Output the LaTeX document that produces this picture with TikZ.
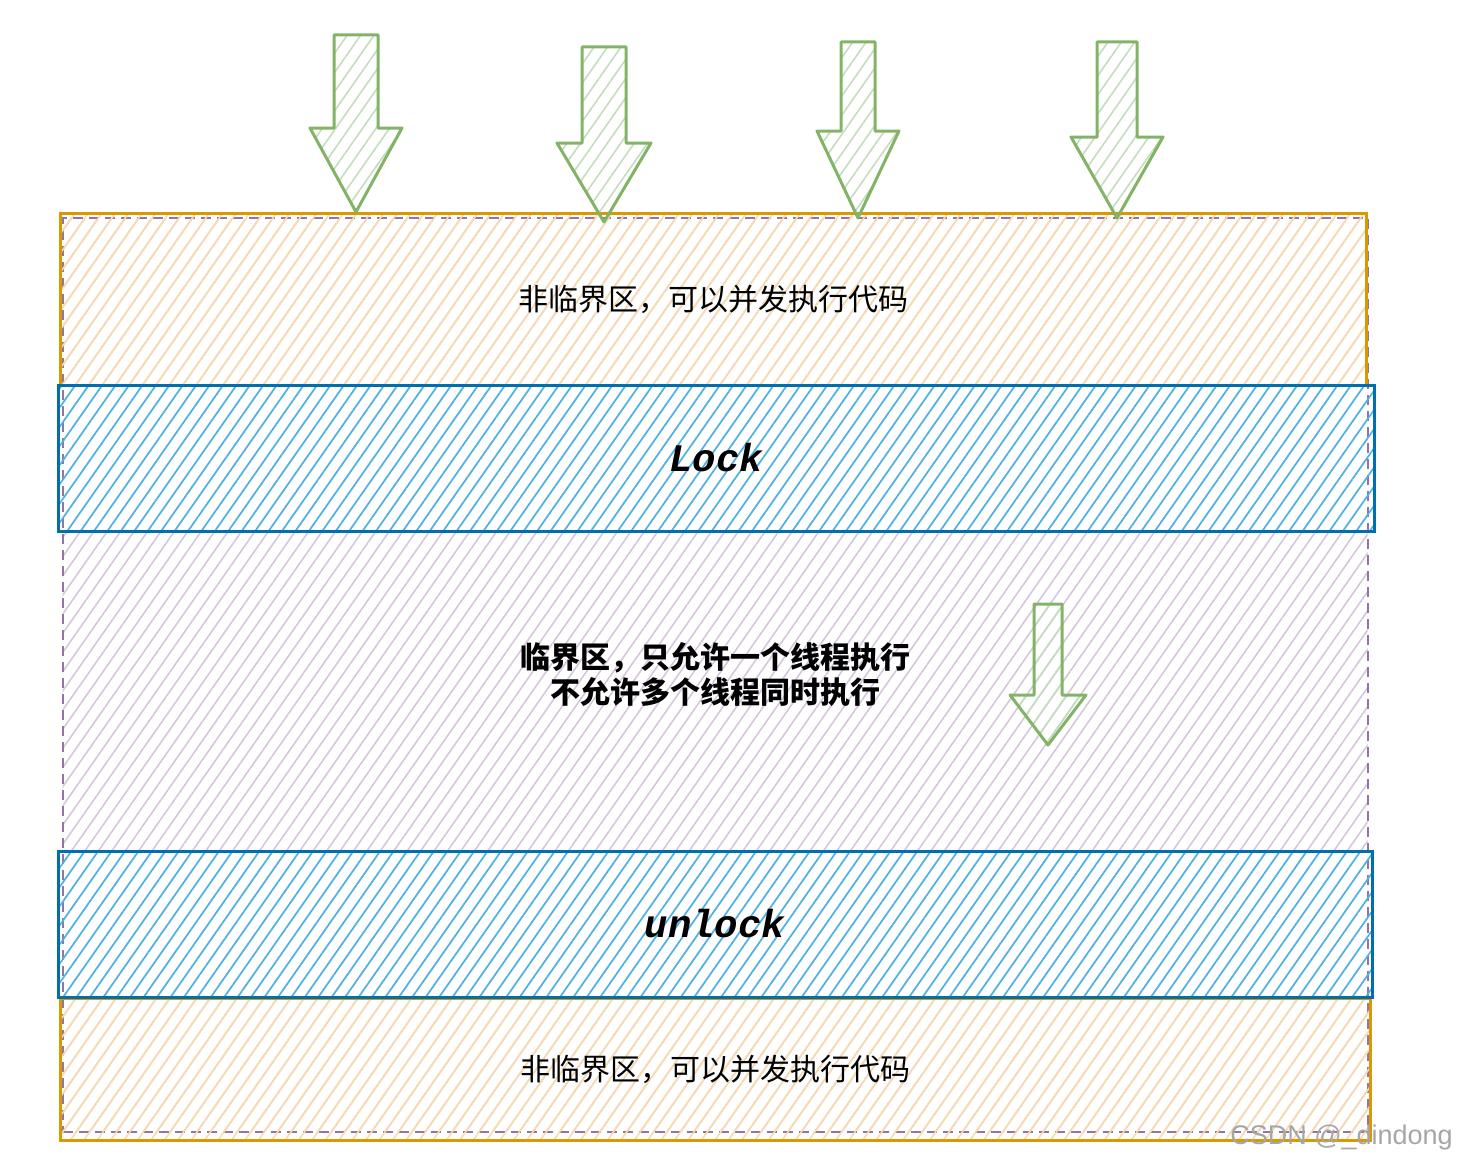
\documentclass[tikz,border=0pt]{standalone}
\usepackage{fontspec}
\usepackage{tikz}
\usetikzlibrary{patterns.meta}
\newfontfamily\cjk{Noto Sans CJK SC}
\newfontfamily\codefont{Liberation Mono}
\newfontfamily\markfont{Liberation Sans}
\definecolor{orline}{HTML}{D79B00}
\definecolor{orfill}{HTML}{FFE6CC}
\definecolor{puline}{HTML}{9673A6}
\definecolor{pufill}{HTML}{E1D5E7}
\definecolor{blline}{HTML}{006EAF}
\definecolor{blfill}{HTML}{1BA1E2}
\definecolor{grline}{HTML}{82B366}
\definecolor{grfill}{HTML}{D5E8D4}
\tikzset{
  hatch/.style={
    pattern={Lines[angle=55, distance=11pt, line width=1.6pt]},
    pattern color=#1
  },
  zonebox/.style={
    rectangle, draw=orline, line width=3pt, hatch=orfill!85!orline,
    minimum width=1306pt, font=\cjk\fontsize{30}{35}\selectfont,
    inner sep=0pt
  },
  critbox/.style={
    rectangle, hatch=pufill!85!puline,
    postaction={draw=puline, line width=2pt, dash pattern=on 10pt off 6pt},
    minimum width=1305pt, minimum height=914pt, align=center,
    font=\cjk\bfseries\fontsize{30}{35}\selectfont, inner sep=0pt
  },
  lockbar/.style={
    rectangle, draw=blline, line width=3pt, hatch=blfill!80,
    minimum width=1316pt, minimum height=146pt,
    font=\codefont\bfseries\itshape\fontsize{39}{39}\selectfont,
    inner sep=0pt
  },
  fatarrow/.style={
    draw=grline, line width=3pt, line join=round, hatch=grfill!80!grline
  },
}
% #1 x, #2 top, #3 neck, #4 tip, #5 shaft half width, #6 head half width
\newcommand\fatarrow[6]{%
  \path[fatarrow] (#1-#5,#2) -- (#1+#5,#2) -- (#1+#5,#3) -- (#1+#6,#3)
    -- (#1,#4) -- (#1-#6,#3) -- (#1-#5,#3) -- cycle;}

\begin{document}
\begin{tikzpicture}[x=1pt, y=-1pt]
  \useasboundingbox (0,0) rectangle (1458,1164);

  % critical section behind everything
  \node[critbox] (crit) at (715,675)
    {临界区，只允许一个线程执行\\不允许多个线程同时执行};

  % non-critical zones
  \node[zonebox, minimum height=172pt] (top) at (713,299)
    {\raisebox{3pt}{非临界区，可以并发执行代码}};
  \node[zonebox, minimum width=1310pt, minimum height=142pt] (bottom) at (715,1069)
    {\raisebox{2pt}{非临界区，可以并发执行代码}};

  % lock / unlock bars
  \node[lockbar] (lock) at (716,458) {Lock};
  \node[lockbar, minimum width=1314pt] (unlock) at (715,924) {unlock};

  % threads coming in
  \fatarrow{356}{35}{128}{212}{22}{46}
  \fatarrow{604}{47}{143}{222}{22}{47}
  \fatarrow{858}{42}{131}{218}{17}{41}
  \fatarrow{1117}{42}{137}{218}{20}{46}
  % the one thread inside
  \fatarrow{1048}{604}{695}{745}{14}{38}

  \node[anchor=east, text=black!35, font=\markfont\fontsize{27}{27}\selectfont,
    inner sep=0pt] (csdn) at (1453,1138) {CSDN @\_dindong};
\end{tikzpicture}
\end{document}
